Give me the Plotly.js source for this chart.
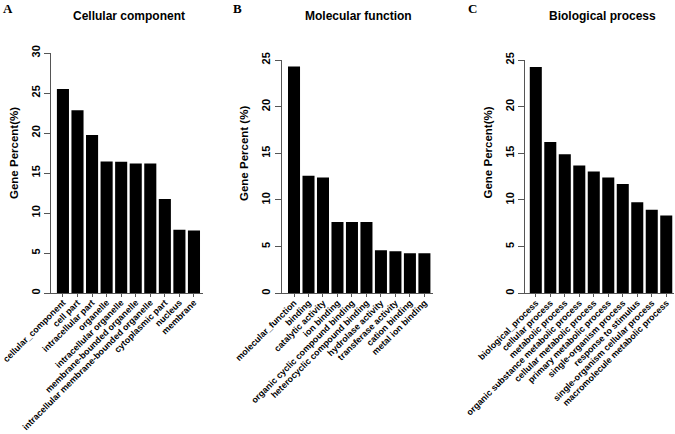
<!DOCTYPE html>
<html>
<head>
<meta charset="utf-8">
<script src="https://cdn.plot.ly/plotly-3.0.1.min.js"></script>
<style>
  html, body { margin: 0; padding: 0; background: #fff; }
  #chart { width: 675px; height: 434px; }
</style>
</head>
<body>
<div id="chart"></div>
<script>
// GO categories and gene percentages
const ccTerms = ['cellular_component', 'cell part', 'intracellular part', 'organelle',
  'intracellular organelle', 'membrane-bounded organelle',
  'intracellular membrane-bounded organelle', 'cytoplasmic part', 'nucleus', 'membrane'];
const ccValues = [25.5, 22.85, 19.75, 16.45, 16.4, 16.2, 16.2, 11.75, 7.9, 7.8];

const mfTerms = ['molecular_function', 'binding', 'catalytic activity', 'ion binding',
  'organic cyclic compound binding', 'heterocyclic compound binding', 'hydrolase activity',
  'transferase activity', 'cation binding', 'metal ion binding'];
const mfValues = [24.3, 12.6, 12.4, 7.65, 7.65, 7.65, 4.6, 4.5, 4.3, 4.3];

const bpTerms = ['biological_process', 'cellular process', 'metabolic process',
  'organic substance metabolic process', 'cellular metabolic process',
  'primary metabolic process', 'single-organism process', 'response to stimulus',
  'single-organism cellular process', 'macromolecule metabolic process'];
const bpValues = [24.25, 16.2, 14.9, 13.7, 13.05, 12.4, 11.7, 9.75, 8.95, 8.35];

const panelTitles = ['Cellular component', 'Molecular function', 'Biological process'];
const panelLetters = ['A', 'B', 'C'];
const yTitles = ['Gene Percent(%)', 'Gene Percent (%)', 'Gene Percent(%)'];

const W = 675, H = 434;
const sans = 'Liberation Sans, Arial, sans-serif';
const axisGrey = '#555';

// pixel layout of each panel
const panels = [
  { terms: ccTerms, values: ccValues, x0: 51, x1: 202.7, xr: [-0.82, 9.6], yTop: 53, yBot: 293, yMax: 30, letterX: 8, yTitleX: 14, titleX: 129 },
  { terms: mfTerms, values: mfValues, x0: 281.7, x1: 433.1, xr: [-0.85, 9.6], yTop: 60, yBot: 293.3, yMax: 25, letterX: 238, yTitleX: 244, titleX: 358 },
  { terms: bpTerms, values: bpValues, x0: 525, x1: 673.5, xr: [-0.745, 9.5], yTop: 60, yBot: 293.3, yMax: 25, letterX: 472, yTitleX: 487.5, titleX: 602 }
];

const data = [];
const layout = {
  width: W, height: H, autosize: false,
  margin: { l: 0, r: 0, t: 0, b: 0 },
  paper_bgcolor: '#fff', plot_bgcolor: '#fff',
  showlegend: false,
  bargap: 0.17,
  font: { family: sans, color: '#000' },
  annotations: []
};

panels.forEach((p, i) => {
  const n = i === 0 ? '' : String(i + 1);
  data.push({
    type: 'bar',
    x: p.terms,
    y: p.values,
    xaxis: 'x' + n,
    yaxis: 'y' + n,
    marker: { color: '#000', line: { width: 0 } },
    hoverinfo: 'x+y'
  });

  layout['xaxis' + n] = {
    domain: [p.x0 / W, p.x1 / W],
    anchor: 'y' + n,
    type: 'category',
    range: p.xr,
    showline: true, linecolor: axisGrey, linewidth: 1,
    ticks: 'outside', ticklen: 3, tickcolor: axisGrey,
    tickangle: -45,
    ticklabelstandoff: -3,
    tickfont: { family: sans, size: 8.9, color: '#000', weight: 'bold' },
    showgrid: false, zeroline: false,
    automargin: false
  };
  layout['yaxis' + n] = {
    domain: [1 - p.yBot / H, 1 - p.yTop / H],
    anchor: 'x' + n,
    range: [0, p.yMax],
    dtick: 5,
    showline: true, linecolor: axisGrey, linewidth: 1,
    ticks: 'outside', ticklen: 6, tickcolor: axisGrey,
    tickangle: -90,
    tickfont: { family: sans, size: 11, color: '#000', weight: 'bold' },
    showgrid: false, zeroline: false,
    automargin: false
  };

  layout.annotations.push(
    { text: panelTitles[i], xref: 'paper', yref: 'paper', x: p.titleX / W, y: 1 - 16 / H,
      xanchor: 'center', yanchor: 'middle', showarrow: false,
      font: { family: sans, size: 12, weight: 'bold', color: '#000' } },
    { text: panelLetters[i], xref: 'paper', yref: 'paper', x: p.letterX / W, y: 1 - 9 / H,
      xanchor: 'center', yanchor: 'middle', showarrow: false,
      font: { family: 'Liberation Serif, Times New Roman, serif', size: 13, weight: 'bold', color: '#000' } },
    { text: yTitles[i], xref: 'paper', yref: 'paper', x: p.yTitleX / W, y: 1 - 153 / H,
      xanchor: 'center', yanchor: 'middle', showarrow: false, textangle: -90,
      font: { family: sans, size: 11.5, weight: 'bold', color: '#000' } }
  );
});

Plotly.newPlot('chart', data, layout, { staticPlot: true });
</script>
</body>
</html>
